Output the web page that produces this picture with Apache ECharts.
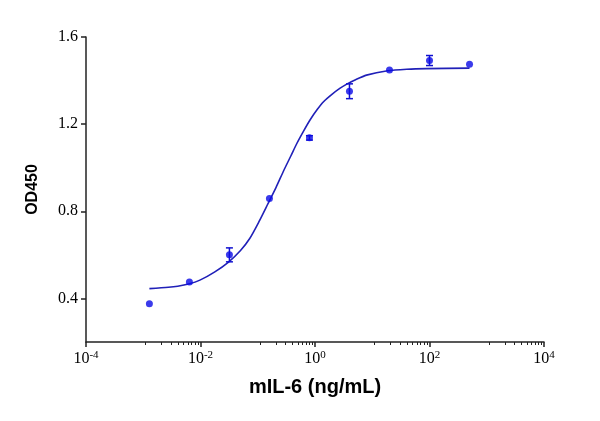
<!DOCTYPE html>
<html>
<head>
<meta charset="utf-8">
<script src="https://cdn.jsdelivr.net/npm/echarts@6/dist/echarts.min.js"></script>
<style>
  html, body { margin: 0; padding: 0; background: #fff; }
  #main { width: 600px; height: 421px; }
</style>
</head>
<body>
<div id="main"></div>
<script>
// measured points (5-fold dilution series)
var conc = [0.00128, 0.0064, 0.032, 0.16, 0.8, 4, 20, 100, 500];
var od = [0.376, 0.475, 0.600, 0.859, 1.137, 1.351, 1.449, 1.492, 1.475];
var odErr = [0, 0, 0.032, 0, 0.010, 0.034, 0, 0.023, 0];

// fitted curve
var curveConc = [0.00128, 0.00275, 0.0040, 0.00617, 0.00977, 0.0178, 0.0309, 0.050, 0.0724,
                 0.105, 0.151, 0.209, 0.282, 0.38, 0.479, 0.631, 0.813, 1.1, 1.41, 2.0,
                 2.75, 3.72, 5.0, 7.94, 18.6, 40, 89.1, 500];
var curveOD = [0.445, 0.451, 0.456, 0.466, 0.484, 0.522, 0.567, 0.620, 0.675,
               0.752, 0.835, 0.910, 0.985, 1.055, 1.110, 1.168, 1.218, 1.268, 1.303, 1.338,
               1.365, 1.386, 1.403, 1.425, 1.445, 1.452, 1.455, 1.457];

var yTicks = [0.4, 0.8, 1.2, 1.6];

var chart = echarts.init(document.getElementById('main'));

var pts = conc.map(function (c, i) { return [c, od[i]]; });
var curve = curveConc.map(function (c, i) { return [c, curveOD[i]]; });
var bars = conc.map(function (c, i) { return [c, od[i] - odErr[i], od[i] + odErr[i]]; })
               .filter(function (d) { return d[2] > d[1]; });

var option = {
  animation: false,
  backgroundColor: '#fff',
  grid: { left: 86, right: 56, top: 37, bottom: 79 },
  xAxis: {
    type: 'log',
    logBase: 10,
    min: 0.0001,
    max: 10000,
    interval: 2,
    name: 'mIL-6 (ng/mL)',
    nameLocation: 'middle',
    nameGap: 35,
    nameTextStyle: { fontFamily: 'Liberation Sans', fontWeight: 'bold', fontSize: 20, color: '#000' },
    axisLine: { lineStyle: { color: '#222', width: 1.5 } },
    axisTick: { length: 5, lineStyle: { color: '#222', width: 1.5 } },
    minorTick: { show: true, splitNumber: 10, length: 3, lineStyle: { color: '#222', width: 1 } },
    splitLine: { show: false },
    axisLabel: {
      margin: 8,
      color: '#000',
      fontFamily: 'Liberation Serif',
      fontSize: 16,
      formatter: function (v) {
        var e = Math.round(Math.log(v) / Math.LN10);
        return '{b|10}{s|' + e + '}';
      },
      rich: {
        b: { fontFamily: 'Liberation Serif', fontSize: 16, color: '#000', lineHeight: 17 },
        s: { fontFamily: 'Liberation Serif', fontSize: 11, color: '#000', verticalAlign: 'top', lineHeight: 17 }
      }
    }
  },
  yAxis: {
    type: 'value',
    min: 0.2,
    max: 1.6,
    name: 'OD450',
    nameLocation: 'middle',
    nameGap: 45,
    nameTextStyle: { fontFamily: 'Liberation Sans', fontWeight: 'bold', fontSize: 16, color: '#000' },
    axisLine: { show: true, lineStyle: { color: '#222', width: 1.5 } },
    axisTick: { show: true, length: 5, customValues: yTicks, lineStyle: { color: '#222', width: 1.5 } },
    splitLine: { show: false },
    axisLabel: {
      margin: 8,
      color: '#000',
      fontFamily: 'Liberation Serif',
      fontSize: 16,
      customValues: yTicks,
      formatter: function (v) { return v.toFixed(1); }
    }
  },
  series: [
    {
      type: 'line',
      data: curve,
      smooth: 0.25,
      showSymbol: false,
      lineStyle: { color: '#2020b8', width: 1.6 },
      z: 2
    },
    {
      type: 'custom',
      data: bars,
      renderItem: function (params, api) {
        var lo = api.coord([api.value(0), api.value(1)]);
        var hi = api.coord([api.value(0), api.value(2)]);
        var w = 3.5;
        var st = { stroke: '#1010d0', lineWidth: 1.5 };
        return {
          type: 'group',
          children: [
            { type: 'line', shape: { x1: lo[0], y1: lo[1], x2: hi[0], y2: hi[1] }, style: st },
            { type: 'line', shape: { x1: lo[0] - w, y1: lo[1], x2: lo[0] + w, y2: lo[1] }, style: st },
            { type: 'line', shape: { x1: hi[0] - w, y1: hi[1], x2: hi[0] + w, y2: hi[1] }, style: st }
          ]
        };
      },
      z: 3
    },
    {
      type: 'scatter',
      data: pts,
      symbol: 'circle',
      symbolSize: 7,
      itemStyle: { color: '#0a0ae6' },
      z: 4
    }
  ]
};

chart.setOption(option);
</script>
</body>
</html>
